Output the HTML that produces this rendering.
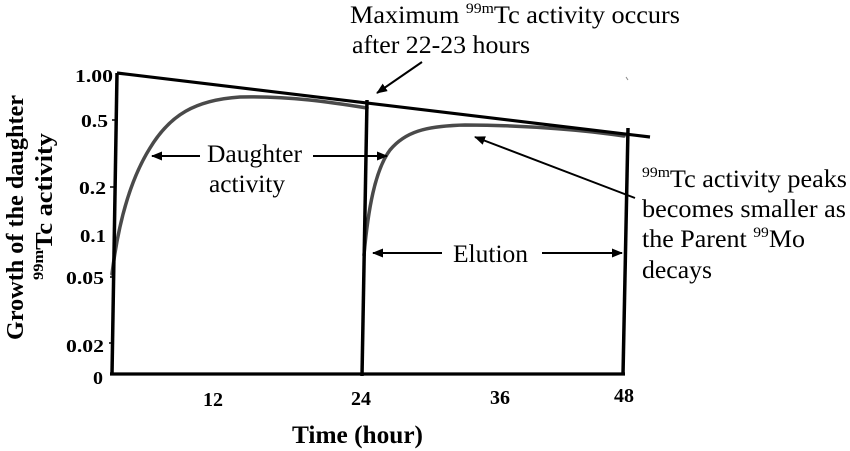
<!DOCTYPE html>
<html><head><meta charset="utf-8"><style>
html,body{margin:0;padding:0;background:#fff;}
svg{display:block;}
text{font-family:"Liberation Serif",serif;fill:#000;}
.b{font-weight:bold;}
</style></head><body>
<svg width="850" height="451" viewBox="0 0 850 451" xmlns="http://www.w3.org/2000/svg">
<defs>
<marker id="a" markerWidth="11" markerHeight="9" refX="10" refY="4.5" orient="auto" markerUnits="userSpaceOnUse"><path d="M0,0 L11,4.5 L0,9 z" fill="#000"/></marker>
</defs>
<!-- curves -->
<path d="M112,274 C118,225 130,180 150,148 C170,115 195,100 240,97 C290,96 330,102 367,108" fill="none" stroke="#4a4a4a" stroke-width="3.5" stroke-linecap="round"/>
<path d="M364,255 C368,210 375,170 390,150 C405,132 425,126 465,125 C530,125 590,131 624,136" fill="none" stroke="#4a4a4a" stroke-width="3.5" stroke-linecap="round"/>
<!-- frame lines -->
<line x1="117" y1="73" x2="650" y2="137" stroke="#000" stroke-width="3.2"/>
<line x1="117" y1="73" x2="112" y2="375" stroke="#000" stroke-width="3.5"/>
<line x1="110" y1="374" x2="625" y2="374" stroke="#000" stroke-width="3.2"/>
<line x1="367" y1="100" x2="362" y2="376" stroke="#000" stroke-width="3.5"/>
<line x1="628" y1="128" x2="623" y2="375" stroke="#000" stroke-width="3.5"/>
<!-- ticks -->
<g stroke="#000" stroke-width="1.5">
<line x1="112" y1="120" x2="116" y2="120"/>
<line x1="110" y1="187" x2="114" y2="187"/>
<line x1="110" y1="277" x2="114" y2="277"/>
<line x1="109" y1="343" x2="113" y2="343"/>
</g>
<!-- y tick labels -->
<g class="b" font-size="18" text-anchor="end">
<text x="113" y="82" textLength="38" lengthAdjust="spacingAndGlyphs">1.00</text>
<text x="108" y="127" textLength="27" lengthAdjust="spacingAndGlyphs">0.5</text>
<text x="106" y="194" textLength="27" lengthAdjust="spacingAndGlyphs">0.2</text>
<text x="106" y="242" textLength="26" lengthAdjust="spacingAndGlyphs">0.1</text>
<text x="104" y="284" textLength="38" lengthAdjust="spacingAndGlyphs">0.05</text>
<text x="104" y="352" textLength="38" lengthAdjust="spacingAndGlyphs">0.02</text>
<text x="103" y="384" textLength="10" lengthAdjust="spacingAndGlyphs">0</text>
</g>
<!-- x tick labels -->
<g class="b" font-size="20" text-anchor="middle">
<text x="213" y="406">12</text>
<text x="361" y="405">24</text>
<text x="500" y="404">36</text>
<text x="624" y="402">48</text>
</g>
<text class="b" x="292" y="443" font-size="25" textLength="131" lengthAdjust="spacingAndGlyphs">Time (hour)</text>
<!-- y title -->
<text class="b" font-size="24" transform="translate(23,340) rotate(-90)" textLength="245" lengthAdjust="spacingAndGlyphs">Growth of the daughter</text>
<text class="b" font-size="24" transform="translate(52,280) rotate(-90)" textLength="147" lengthAdjust="spacingAndGlyphs"><tspan font-size="15" dy="-9">99m</tspan><tspan dy="9">Tc activity</tspan></text>
<!-- top annotation -->
<text x="350" y="23" font-size="25" textLength="330" lengthAdjust="spacingAndGlyphs">Maximum <tspan font-size="15" dy="-10">99m</tspan><tspan dy="10">Tc activity occurs</tspan></text>
<text x="352" y="53" font-size="25" textLength="178" lengthAdjust="spacingAndGlyphs">after 22-23 hours</text>
<line x1="422" y1="62" x2="377" y2="93" stroke="#000" stroke-width="2" marker-end="url(#a)"/>
<!-- daughter activity -->
<text x="207" y="162" font-size="25" textLength="95" lengthAdjust="spacingAndGlyphs">Daughter</text>
<text x="209" y="192" font-size="25" textLength="76" lengthAdjust="spacingAndGlyphs">activity</text>
<line x1="200" y1="156" x2="152" y2="156" stroke="#000" stroke-width="2" marker-end="url(#a)"/>
<line x1="313" y1="156" x2="387" y2="156" stroke="#000" stroke-width="2" marker-end="url(#a)"/>
<!-- elution -->
<text x="453" y="262" font-size="25" textLength="75" lengthAdjust="spacingAndGlyphs">Elution</text>
<line x1="442" y1="253" x2="373" y2="253" stroke="#000" stroke-width="2" marker-end="url(#a)"/>
<line x1="542" y1="253" x2="622" y2="253" stroke="#000" stroke-width="2" marker-end="url(#a)"/>
<!-- right annotation -->
<text x="642" y="187" font-size="25" textLength="205" lengthAdjust="spacingAndGlyphs"><tspan font-size="15" dy="-10">99m</tspan><tspan dy="10">Tc activity peaks</tspan></text>
<text x="642" y="217" font-size="25" textLength="204" lengthAdjust="spacingAndGlyphs">becomes smaller as</text>
<text x="642" y="247" font-size="25" textLength="163" lengthAdjust="spacingAndGlyphs">the Parent <tspan font-size="15" dy="-10">99</tspan><tspan dy="10">Mo</tspan></text>
<text x="642" y="278" font-size="25" textLength="70" lengthAdjust="spacingAndGlyphs">decays</text>
<line x1="635" y1="198" x2="475" y2="137" stroke="#000" stroke-width="2" marker-end="url(#a)"/>
<line x1="626" y1="77" x2="628" y2="80" stroke="#888" stroke-width="1"/>
</svg>
</body></html>
